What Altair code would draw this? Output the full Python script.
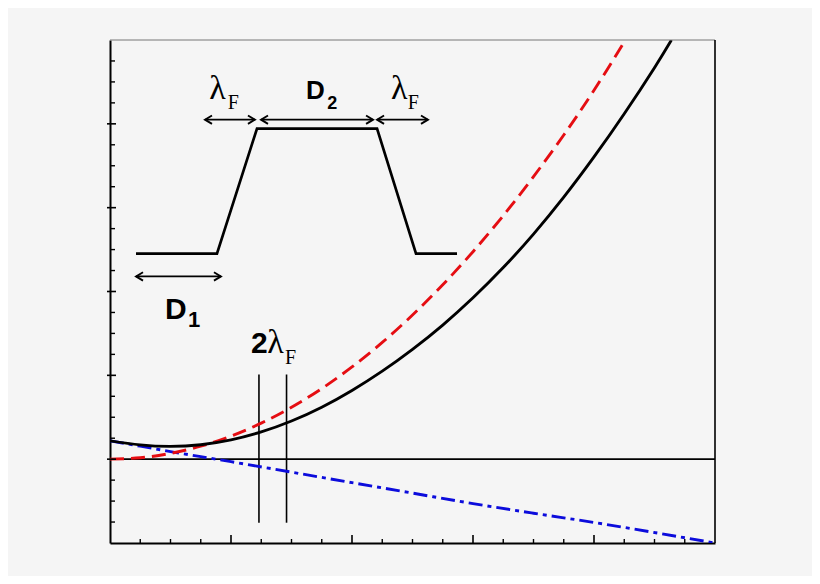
import altair as alt
import pandas as pd

# ---- curve data ----
black_x = [0, 0.25, 0.5, 0.75, 1.0, 1.25, 1.5, 1.75, 2.0, 2.25, 2.5, 2.75, 3.0, 3.25, 3.5, 3.75, 4.0, 4.25, 4.5, 4.64]
black_y = [1.218, 1.17, 1.152, 1.172, 1.23, 1.325, 1.455, 1.62, 1.82, 2.05, 2.31, 2.60, 2.925, 3.285, 3.685, 4.125, 4.605, 5.12, 5.67, 6.0]

red_x = [0, 0.25, 0.5, 0.75, 1.0, 1.25, 1.5, 1.75, 2.0, 2.25, 2.5, 2.75, 3.0, 3.25, 3.5, 3.75, 4.0, 4.26]
red_y = [1.0, 1.017, 1.069, 1.155, 1.275, 1.43, 1.619, 1.842, 2.1, 2.392, 2.719, 3.08, 3.475, 3.905, 4.37, 4.867, 5.4, 6.0]

blue_x = [0, 0.25, 0.5, 0.75, 1.0, 1.5, 2.0, 2.5, 3.0, 3.5, 4.0, 4.5, 5.0]
blue_y = [1.218, 1.155, 1.09, 1.03, 0.97, 0.845, 0.72, 0.595, 0.47, 0.355, 0.245, 0.125, 0.0]

baseline_y = [1.0]

# vertical markers (2 lambda_F)
vline_x = [1.231, 1.459]
vline_y0 = [0.242, 0.242]
vline_y1 = [2.01, 2.01]

# inset profile
prof_x = [0.215, 0.884, 1.215, 2.207, 2.529, 2.868]
prof_y = [3.452, 3.452, 4.944, 4.944, 3.452, 3.452]

# double arrows
arr_x1 = [0.215, 0.785, 1.248, 2.207]
arr_x2 = [0.917, 1.198, 2.174, 2.628]
arr_y = [3.18, 5.05, 5.05, 5.05]

# axis ticks
x_major = [1, 2, 3, 4]
x_minor = [0.25, 0.5, 0.75, 1.25, 1.5, 1.75, 2.25, 2.5, 2.75, 3.25, 3.5, 3.75,
           4.25, 4.5, 4.75]
y_major = [1, 2, 3, 4, 5]
y_minor = [0.25, 0.5, 0.75, 1.25, 1.5, 1.75, 2.25, 2.5, 2.75, 3.25, 3.5, 3.75,
           4.25, 4.5, 4.75, 5.25, 5.5, 5.75]

# labels
lam_x = [0.82, 2.322, 1.300]
lam_y = [5.298, 5.298, 2.265]
lam_t = ["λ", "λ", "λ"]
fsub_x = [0.973, 2.46, 1.446]
fsub_y = [5.175, 5.175, 2.131]
fsub_t = ["F", "F", "F"]

W, H = 605, 503
xs = alt.Scale(domain=[0, 5], nice=False, zero=False)
ys = alt.Scale(domain=[0, 6], nice=False, zero=False)

def X(f="x"):
    return alt.X(f"{f}:Q", scale=xs, title=None)

def Y(f="y"):
    return alt.Y(f"{f}:Q", scale=ys, title=None)

base_ax = alt.Chart(pd.DataFrame({"x": [0, 5], "y": [0, 0]})).mark_point(opacity=0).encode(
    x=alt.X("x:Q", scale=xs, title=None,
            axis=alt.Axis(labels=False, ticks=False, grid=False, domainColor="black", domainWidth=2)),
    y=alt.Y("y:Q", scale=ys, title=None,
            axis=alt.Axis(labels=False, ticks=False, grid=False, domainColor="black", domainWidth=2)),
)

black = alt.Chart(pd.DataFrame({"x": black_x, "y": black_y})).mark_line(
    color="black", strokeWidth=2.9, interpolate="natural", clip=True).encode(x=X(), y=Y())
red = alt.Chart(pd.DataFrame({"x": red_x, "y": red_y})).mark_line(
    color="#e50d12", strokeWidth=2.9, strokeDash=[14, 7], interpolate="natural", clip=True).encode(x=X(), y=Y())
blue = alt.Chart(pd.DataFrame({"x": blue_x, "y": blue_y})).mark_line(
    color="#0c0cdc", strokeWidth=2.9, strokeDash=[14, 5, 4, 5], interpolate="monotone", clip=True).encode(x=X(), y=Y())

base_line = alt.Chart(pd.DataFrame({"y": baseline_y})).mark_rule(
    color="black", strokeWidth=1.6).encode(y=Y())

vlines = alt.Chart(pd.DataFrame({"x": vline_x, "y": vline_y0, "y2": vline_y1})).mark_rule(
    color="black", strokeWidth=1.6).encode(x=X(), y=Y(), y2="y2:Q")

profile = alt.Chart(pd.DataFrame({"x": prof_x, "y": prof_y, "o": list(range(len(prof_x)))})).mark_line(
    color="black", strokeWidth=2.7, strokeJoin="miter").encode(x=X(), y=Y(), order="o:Q")

arr_df = pd.DataFrame({"x": arr_x1, "x2": arr_x2, "y": arr_y})
shafts = alt.Chart(arr_df).mark_rule(color="black", strokeWidth=1.9).encode(x=X(), x2="x2:Q", y=Y())
head_l = alt.Chart(arr_df).mark_point(
    shape="M1,-0.6L0,0L1,0.6", filled=False, size=196, strokeWidth=1.9, color="black", opacity=1
).encode(x=X(), y=Y())
head_r = alt.Chart(arr_df).mark_point(
    shape="M-1,-0.6L0,0L-1,0.6", filled=False, size=196, strokeWidth=1.9, color="black", opacity=1
).encode(x=X("x2"), y=Y())

# ticks
xt_major = alt.Chart(pd.DataFrame({"x": x_major})).mark_rule(color="black", strokeWidth=1.6).encode(
    x=X(), y=alt.value(H), y2=alt.value(H - 8))
xt_minor = alt.Chart(pd.DataFrame({"x": x_minor})).mark_rule(color="black", strokeWidth=1.4).encode(
    x=X(), y=alt.value(H), y2=alt.value(H - 4))
yt_major = alt.Chart(pd.DataFrame({"y": y_major})).mark_rule(color="black", strokeWidth=1.6).encode(
    y=Y(), x=alt.value(-3), x2=alt.value(6))
yt_minor = alt.Chart(pd.DataFrame({"y": y_minor})).mark_rule(color="black", strokeWidth=1.4).encode(
    y=Y(), x=alt.value(0), x2=alt.value(5))

top_border = alt.Chart(pd.DataFrame({"x": [0]})).mark_rule(color="#777777", strokeWidth=1).encode(
    x=alt.value(0), x2=alt.value(W), y=alt.value(0))
right_border = alt.Chart(pd.DataFrame({"x": [0]})).mark_rule(color="black", strokeWidth=1.6).encode(
    x=alt.value(W), y=alt.value(0), y2=alt.value(H))

# texts
def txt(xv, yv, tv, font, size, bold):
    df = pd.DataFrame({"x": xv, "y": yv, "t": tv})
    return alt.Chart(df).mark_text(
        align="left", baseline="alphabetic", font=font, fontSize=size,
        fontWeight="bold" if bold else "normal", color="black"
    ).encode(x=X(), y=Y(), text="t:N")

lam = txt(lam_x, lam_y, lam_t, "Liberation Serif", 34, False)
fsub = txt(fsub_x, fsub_y, fsub_t, "Liberation Serif", 20, False)
d2 = txt([1.620], [5.294], ["D"], "Liberation Sans", 26, True)
d2s = txt([1.795], [5.175], ["2"], "Liberation Sans", 18, True)
d1 = txt([0.455], [2.675], ["D"], "Liberation Sans", 30, True)
d1s = txt([0.645], [2.575], ["1"], "Liberation Sans", 22, True)
two = txt([1.165], [2.265], ["2"], "Liberation Sans", 30, True)

chart = alt.layer(
    base_ax, base_line, vlines, blue, red, black, profile, shafts, head_l, head_r,
    xt_major, xt_minor, yt_major, yt_minor, top_border, right_border,
    lam, fsub, d2, d2s, d1, d1s, two
).properties(
    width=W, height=H,
    autosize=alt.AutoSizeParams(type="none"),
    padding={"left": 102, "top": 32, "right": 97, "bottom": 33},
    background="#f5f5f5",
).configure_view(stroke=None)

chart.save("out.html", embed_options={"renderer": "svg", "actions": False})
